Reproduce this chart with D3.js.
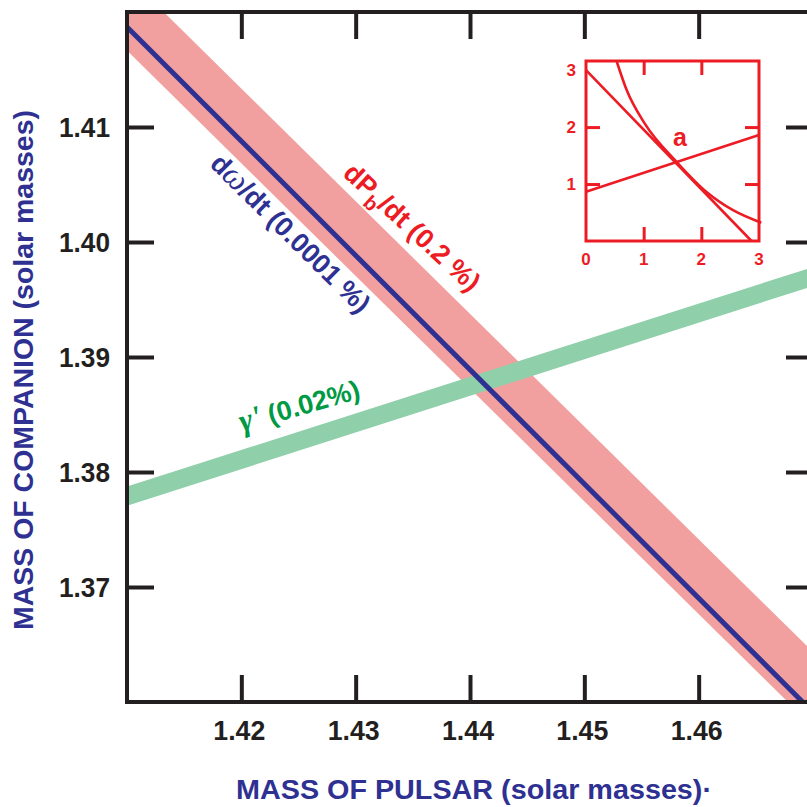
<!DOCTYPE html>
<html>
<head>
<meta charset="utf-8">
<script src="https://cdn.jsdelivr.net/npm/d3@7/dist/d3.min.js"></script>
<style>
  html, body { margin: 0; padding: 0; background: #fff; }
  svg { display: block; }
</style>
</head>
<body>
<script>
// ---------------- DATA ----------------
const pulsarMass = [1.41, 1.47];                 // x extent of the constraint lines
const omegaDotCompanion = [1.4187, 1.3591];      // dω/dt line (companion mass)
const pbDotCenter = [1.4199, 1.3611];            // dPb/dt band centre
const pbDotHalfWidth = 0.00325;
const gammaCenter = [1.3779, 1.3970];            // γ band centre
const gammaHalfWidth = 0.00083;

const xTicks = [1.42, 1.43, 1.44, 1.45, 1.46];
const xTickLabels = ["1.42", "1.43", "1.44", "1.45", "1.46"];
const yTicks = [1.37, 1.38, 1.39, 1.40, 1.41];
const yTickLabels = ["1.37", "1.38", "1.39", "1.40", "1.41"];

// inset (a)
const insetLineAX = [0, 2.87];
const insetLineAY = [3.0, 0];
const insetLineBX = [0, 3];
const insetLineBY = [0.865, 1.86];
const insetCurveX = [0.53, 0.705, 1.02, 1.57, 2.09, 2.55, 3.04];
const insetCurveY = [3.16, 2.65, 2.06, 1.39, 0.86, 0.54, 0.32];
const insetTicks = [1, 2];
const insetXLabels = ["0", "1", "2", "3"];
const insetYLabels = ["1", "2", "3"];

// ---------------- SETUP ----------------
const W = 807, H = 807;
const svg = d3.select("body").append("svg").attr("width", W).attr("height", H);

const AX = "#231f20", BLUE = "#2e3192", RED = "#ed1c24", REDBAND = "#f1a09f",
      GREENBAND = "#8fcfa9", GREENTXT = "#009a44";
const FONT = "'Liberation Sans', Arial, sans-serif";
const NARROW = "'Liberation Sans Narrow', 'Arial Narrow', 'Liberation Sans', Arial, sans-serif";

const x = d3.scaleLinear().domain([1.41, 1.47]).range([127, 813]);
const y = d3.scaleLinear().domain([1.36, 1.42]).range([702, 12]);

svg.append("defs").append("clipPath").attr("id", "plotclip")
  .append("rect").attr("x", 127).attr("y", 12).attr("width", 686).attr("height", 690);

const plot = svg.append("g").attr("clip-path", "url(#plotclip)");

const bandPts = (c, hw) => pulsarMass.map((m, i) => ({m, lo: c[i] - hw, hi: c[i] + hw}));
const area = d3.area().x(d => x(d.m)).y0(d => y(d.lo)).y1(d => y(d.hi));

plot.append("path").datum(bandPts(pbDotCenter, pbDotHalfWidth))
  .attr("d", area).attr("fill", REDBAND);
plot.append("path").datum(bandPts(gammaCenter, gammaHalfWidth))
  .attr("d", area).attr("fill", GREENBAND);
plot.append("path").datum(pulsarMass.map((m, i) => [m, omegaDotCompanion[i]]))
  .attr("d", d3.line().x(d => x(d[0])).y(d => y(d[1])))
  .attr("fill", "none").attr("stroke", BLUE).attr("stroke-width", 5);

// ---------------- AXES / FRAME ----------------
const TL = 27;
const axL = svg.append("g").attr("transform", "translate(127,0)")
  .call(d3.axisRight(y).tickValues(yTicks).tickSize(TL).tickFormat(""));
const axR = svg.append("g").attr("transform", "translate(813,0)")
  .call(d3.axisLeft(y).tickValues(yTicks).tickSize(TL).tickFormat(""));
const axB = svg.append("g").attr("transform", "translate(0,702)")
  .call(d3.axisTop(x).tickValues(xTicks).tickSize(TL).tickFormat(""));
const axT = svg.append("g").attr("transform", "translate(0,12)")
  .call(d3.axisBottom(x).tickValues(xTicks).tickSize(TL).tickFormat(""));
[axL, axR, axB, axT].forEach(a => {
  a.select(".domain").remove();
  a.selectAll("line").attr("stroke", AX).attr("stroke-width", 4);
});
svg.append("rect").attr("x", 127).attr("y", 12).attr("width", 686).attr("height", 690)
  .attr("fill", "none").attr("stroke", AX).attr("stroke-width", 4);

// tick labels
svg.append("g").selectAll("text").data(yTicks).join("text")
  .attr("x", 110).attr("y", d => y(d) + 10)
  .attr("text-anchor", "end").attr("font-family", FONT).attr("font-weight", "bold")
  .attr("font-size", 28).attr("fill", AX)
  .attr("textLength", 51).attr("lengthAdjust", "spacingAndGlyphs")
  .text((d, i) => yTickLabels[i]);

svg.append("g").selectAll("text").data(xTicks).join("text")
  .attr("x", d => x(d) - 2).attr("y", 740)
  .attr("text-anchor", "middle").attr("font-family", FONT).attr("font-weight", "bold")
  .attr("font-size", 28).attr("fill", AX)
  .attr("textLength", 52).attr("lengthAdjust", "spacingAndGlyphs")
  .text((d, i) => xTickLabels[i]);

// axis titles
svg.append("text").attr("transform", "translate(33,370) rotate(-90)")
  .attr("text-anchor", "middle").attr("font-family", NARROW).attr("font-weight", "bold")
  .attr("font-size", 28).attr("fill", BLUE)
  .attr("textLength", 520).attr("lengthAdjust", "spacingAndGlyphs")
  .text("MASS OF COMPANION (solar masses)");

svg.append("text").attr("x", 474).attr("y", 799)
  .attr("text-anchor", "middle").attr("font-family", NARROW).attr("font-weight", "bold")
  .attr("font-size", 27).attr("fill", BLUE)
  .attr("textLength", 476).attr("lengthAdjust", "spacingAndGlyphs")
  .text("MASS OF PULSAR (solar masses)·");

// ---------------- CURVE LABELS ----------------
const tOmega = svg.append("text").attr("transform", "translate(284,240) rotate(44.8)")
  .attr("text-anchor", "middle").attr("font-family", FONT).attr("font-weight", "bold")
  .attr("font-size", 27).attr("fill", BLUE);
tOmega.append("tspan").text("d");
tOmega.append("tspan").attr("font-family", "'Liberation Serif', 'DejaVu Serif', serif")
  .attr("font-style", "italic").attr("font-weight", "normal").attr("font-size", 33).text("ω");
tOmega.append("tspan").text("/dt (0.0001 %)");

const tPb = svg.append("text").attr("transform", "translate(406,234) rotate(42.6)")
  .attr("text-anchor", "middle").attr("font-family", FONT).attr("font-weight", "bold")
  .attr("font-size", 27).attr("fill", RED);
tPb.append("tspan").text("dP");
tPb.append("tspan").attr("font-size", 20).attr("dy", 8).text("b");
tPb.append("tspan").attr("dy", -8).text("/dt (0.2 %)");

const tG = svg.append("text").attr("transform", "translate(302,415) rotate(-16)")
  .attr("text-anchor", "middle").attr("font-family", FONT).attr("font-weight", "bold")
  .attr("font-size", 27).attr("fill", GREENTXT);
tG.append("tspan").attr("font-family", "'Liberation Serif', 'DejaVu Serif', serif")
  .attr("font-style", "italic").attr("font-size", 32).text("γ'");
tG.append("tspan").text(" (0.02%)");

// ---------------- INSET ----------------
const ix = d3.scaleLinear().domain([0, 3]).range([586, 759]);
const iy = d3.scaleLinear().domain([0, 3.16]).range([241, 61]);
const inset = svg.append("g");

const il = d3.line().x(d => ix(d[0])).y(d => iy(d[1]));
const ig = inset.append("g");
ig.append("path").datum(insetLineAX.map((v, i) => [v, insetLineAY[i]]))
  .attr("d", il).attr("fill", "none").attr("stroke", RED).attr("stroke-width", 2.6);
ig.append("path").datum(insetLineBX.map((v, i) => [v, insetLineBY[i]]))
  .attr("d", il).attr("fill", "none").attr("stroke", RED).attr("stroke-width", 2.6);
ig.append("path").datum(insetCurveX.map((v, i) => [v, insetCurveY[i]]))
  .attr("d", il.curve(d3.curveMonotoneX)).attr("fill", "none").attr("stroke", RED).attr("stroke-width", 2.6);

const IT = 14;
const iaL = inset.append("g").attr("transform", "translate(586,0)")
  .call(d3.axisRight(iy).tickValues(insetTicks).tickSize(IT).tickFormat(""));
const iaR = inset.append("g").attr("transform", "translate(759,0)")
  .call(d3.axisLeft(iy).tickValues(insetTicks).tickSize(IT).tickFormat(""));
const iaB = inset.append("g").attr("transform", "translate(0,241)")
  .call(d3.axisTop(ix).tickValues(insetTicks).tickSize(IT).tickFormat(""));
const iaT = inset.append("g").attr("transform", "translate(0,61)")
  .call(d3.axisBottom(ix).tickValues(insetTicks).tickSize(IT).tickFormat(""));
[iaL, iaR, iaB, iaT].forEach(a => {
  a.select(".domain").remove();
  a.selectAll("line").attr("stroke", RED).attr("stroke-width", 3);
});
inset.append("rect").attr("x", 586).attr("y", 61).attr("width", 173).attr("height", 180)
  .attr("fill", "none").attr("stroke", RED).attr("stroke-width", 3);

inset.append("g").selectAll("text").data(insetYLabels).join("text")
  .attr("x", 576).attr("y", d => iy(+d) + 6)
  .attr("text-anchor", "end").attr("font-family", FONT).attr("font-weight", "bold")
  .attr("font-size", 17).attr("fill", RED).text(d => d);
inset.append("g").selectAll("text").data(insetXLabels).join("text")
  .attr("x", d => ix(+d)).attr("y", 265)
  .attr("text-anchor", "middle").attr("font-family", FONT).attr("font-weight", "bold")
  .attr("font-size", 17).attr("fill", RED).text(d => d);
inset.append("text").attr("x", 680).attr("y", 146)
  .attr("text-anchor", "middle").attr("font-family", FONT).attr("font-weight", "bold")
  .attr("font-size", 25).attr("fill", RED).text("a");
</script>
</body>
</html>
